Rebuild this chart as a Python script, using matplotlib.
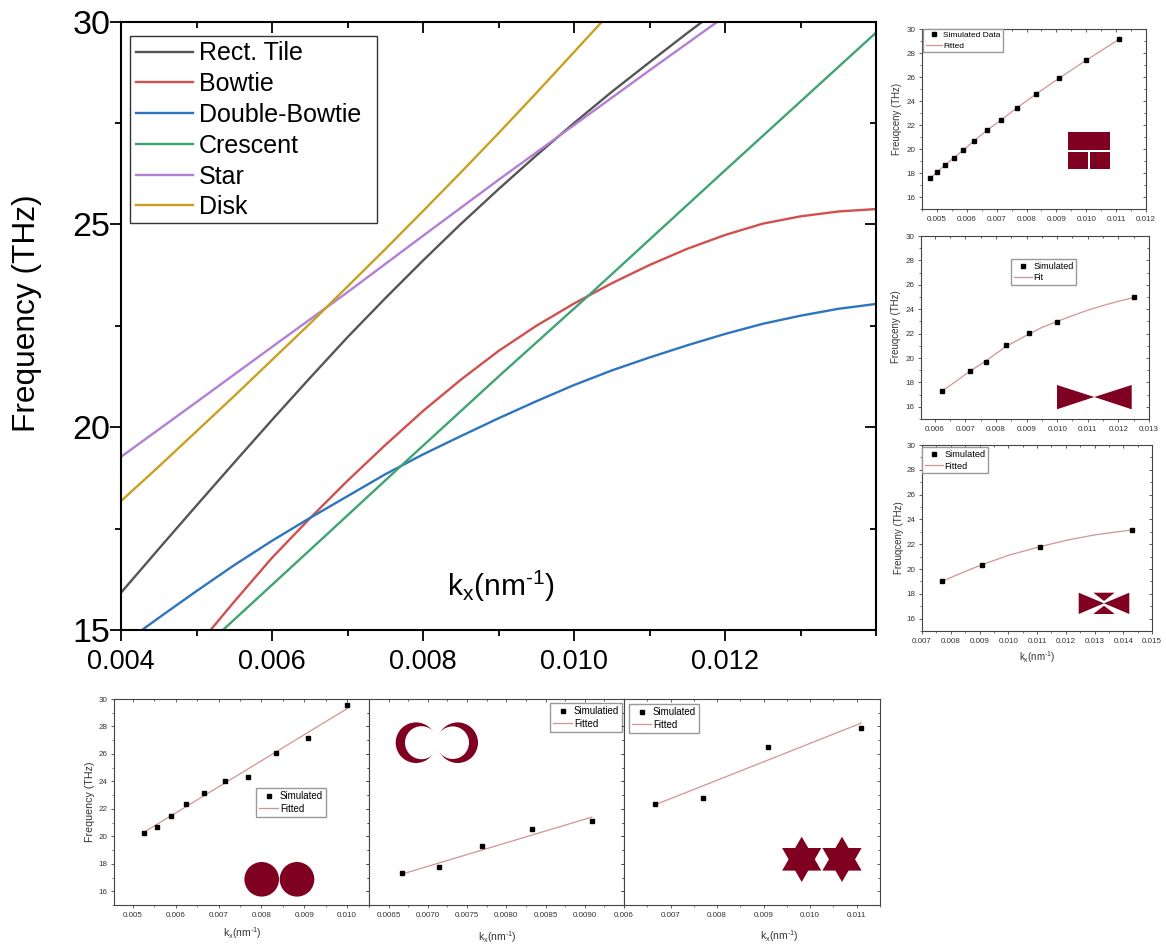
import matplotlib
matplotlib.use('Agg')
import matplotlib.pyplot as plt
from matplotlib.patches import Polygon, Rectangle, Circle
from matplotlib.ticker import MultipleLocator, FormatStrFormatter

W, H = 1166, 946

plt.rcParams['font.family'] = ['Liberation Sans', 'DejaVu Sans']
plt.rcParams['mathtext.default'] = 'regular'

# main chart, curves
rect_k = [0.004, 0.0045, 0.005, 0.0055, 0.006, 0.0065, 0.007, 0.0075, 0.008, 0.0085, 0.009, 0.0095, 0.01, 0.0105, 0.011, 0.0115, 0.0117]
rect_f = [15.92, 17.0, 18.07, 19.13, 20.18, 21.21, 22.22, 23.18, 24.11, 25.01, 25.87, 26.7, 27.5, 28.27, 29.0, 29.72, 30]
bowtie_k = [0.0052, 0.0055, 0.006, 0.0065, 0.007, 0.0075, 0.008, 0.0085, 0.009, 0.0095, 0.01, 0.0105, 0.011, 0.0115, 0.012, 0.0125, 0.013, 0.0135, 0.014]
bowtie_f = [15.03, 15.7, 16.78, 17.75, 18.68, 19.56, 20.4, 21.17, 21.88, 22.5, 23.05, 23.55, 24.0, 24.4, 24.74, 25.02, 25.2, 25.32, 25.38]
dbl_k = [0.0043, 0.0045, 0.005, 0.0055, 0.006, 0.0065, 0.007, 0.0075, 0.008, 0.0085, 0.009, 0.0095, 0.01, 0.0105, 0.011, 0.0115, 0.012, 0.0125, 0.013, 0.0135, 0.014]
dbl_f = [15.03, 15.3, 15.96, 16.6, 17.2, 17.76, 18.3, 18.84, 19.33, 19.78, 20.22, 20.64, 21.04, 21.4, 21.72, 22.02, 22.3, 22.55, 22.75, 22.92, 23.04]
crescent_k = [0.00535, 0.00667, 0.00774, 0.00903, 0.0102, 0.01198, 0.014]
crescent_f = [15, 17.26, 19.1, 21.3, 23.26, 26.3, 29.73]
star_k = [0.004, 0.005, 0.006, 0.007, 0.008, 0.009, 0.01, 0.011, 0.0119]
star_f = [19.27, 20.62, 21.98, 23.33, 24.72, 26.1, 27.45, 28.8, 30]
disk_k = [0.004, 0.0045, 0.005, 0.0055, 0.006, 0.0065, 0.007, 0.0075, 0.008, 0.0085, 0.009, 0.0095, 0.01, 0.01037]
disk_f = [18.18, 19.03, 19.9, 20.77, 21.66, 22.55, 23.47, 24.39, 25.33, 26.28, 27.25, 28.24, 29.25, 30]

# small panels
p1_k = [0.00476, 0.005, 0.00526, 0.00556, 0.00588, 0.00625, 0.00667, 0.00714, 0.00769, 0.00833, 0.00909, 0.01, 0.0111]
p1_f = [17.55, 18.05, 18.65, 19.25, 19.9, 20.7, 21.55, 22.4, 23.45, 24.6, 25.9, 27.4, 29.15]
p2_k = [0.00625, 0.00714, 0.00769, 0.00833, 0.00909, 0.01, 0.0125]
p2_f = [17.3, 18.95, 19.7, 21.05, 22.05, 22.95, 25.0]
p2_fit_k = [0.00625, 0.00714, 0.00769, 0.00833, 0.00909, 0.0095, 0.01, 0.0105, 0.011, 0.0115, 0.012, 0.0125]
p2_fit_f = [17.3, 18.9, 19.8, 20.95, 21.98, 22.5, 23.0, 23.47, 23.92, 24.3, 24.65, 24.95]
p3_k = [0.00769, 0.00909, 0.0111, 0.01429]
p3_f = [19.05, 20.3, 21.8, 23.15]
p3_fit_k = [0.00769, 0.0085, 0.00909, 0.01, 0.0111, 0.012, 0.013, 0.01429]
p3_fit_f = [19.0, 19.8, 20.35, 21.1, 21.8, 22.3, 22.75, 23.15]
p4_k = [0.00526, 0.00556, 0.00588, 0.00625, 0.00667, 0.00714, 0.00769, 0.00833, 0.00909, 0.01]
p4_f = [20.25, 20.65, 21.5, 22.35, 23.15, 24.05, 24.35, 26.1, 27.15, 29.55]
p4_fit_k = [0.00526, 0.01]
p4_fit_f = [20.3, 29.3]
p5_k = [0.00667, 0.00714, 0.00769, 0.00833, 0.00909]
p5_f = [17.3, 17.75, 19.3, 20.55, 21.1]
p5_fit_k = [0.00667, 0.00909]
p5_fit_f = [17.25, 21.4]
p6_k = [0.00667, 0.00769, 0.00909, 0.0111]
p6_f = [22.35, 22.8, 26.5, 27.9]
p6_fit_k = [0.00667, 0.0111]
p6_fit_f = [22.3, 28.25]

main_xticks = [0.004, 0.006, 0.008, 0.010, 0.012]
p5_xticks = [0.0065, 0.007, 0.0075, 0.008, 0.0085, 0.009]

dark_red = '#7f0020'
fit_color = '#d49393'
frame = '#444444'


def pos(l, t, r, b):
    return [l / W, 1 - b / H, (r - l) / W, (b - t) / H]


def inner_ticks(a, major_len, minor_len, width, color):
    # top and right ticks point into the plot, bottom and left ones out of it
    x0, x1 = a.get_xlim()
    y0, y1 = a.get_ylim()
    top = a.secondary_xaxis('top')
    right = a.secondary_yaxis('right')
    top.set_xticks([t for t in a.get_xticks() if x0 <= t <= x1])
    top.set_xticks([t for t in a.get_xticks(minor=True) if x0 <= t <= x1], minor=True)
    right.set_yticks([t for t in a.get_yticks() if y0 <= t <= y1])
    right.set_yticks([t for t in a.get_yticks(minor=True) if y0 <= t <= y1], minor=True)
    for sec, axis in ((top, 'x'), (right, 'y')):
        sec.tick_params(axis=axis, which='major', direction='in', length=major_len, width=width, color=color,
                        labeltop=False, labelright=False)
        sec.tick_params(axis=axis, which='minor', direction='in', length=minor_len, width=width, color=color)
        for s in sec.spines.values():
            s.set_visible(False)


def panel(box, xlim, major, minor, fmt='%.3f', left_labels=True, xticks=None):
    a = fig.add_axes(pos(*box))
    a.set_xlim(*xlim)
    a.set_ylim(15, 30)
    a.xaxis.set_major_locator(MultipleLocator(major))
    a.xaxis.set_minor_locator(MultipleLocator(minor))
    a.xaxis.set_major_formatter(FormatStrFormatter(fmt))
    a.yaxis.set_minor_locator(MultipleLocator(1))
    a.set_yticks(range(16, 31, 2))
    if xticks is not None:
        a.set_xticks(xticks)
    for s in a.spines.values():
        s.set_color(frame)
        s.set_linewidth(0.8)
    a.tick_params(which='major', length=2.2, width=0.6, color=frame, labelsize=5.8, labelcolor='#333333', pad=2.5)
    a.tick_params(which='minor', length=1.2, width=0.5, color=frame)
    a.tick_params(axis='y', labelleft=left_labels)
    inner_ticks(a, 2.2, 1.2, 0.6, frame)
    return a


def draw(a, k, f, fit_k, fit_f, names, corner, fs):
    a.plot(k, f, 's', color='black', ms=3.3, label=names[0], zorder=3)
    a.plot(fit_k, fit_f, '-', color=fit_color, lw=0.9, label=names[1], zorder=2)
    a.legend(loc='upper left', bbox_to_anchor=(corner[0] / W, 1 - corner[1] / H), bbox_transform=fig.transFigure,
             borderaxespad=0, fontsize=fs, frameon=True, fancybox=False, framealpha=1, edgecolor='#999999',
             handlelength=2.0, handletextpad=0.15, labelspacing=0.3, borderpad=0.3, numpoints=1)


fig = plt.figure(figsize=(W / 100, H / 100), dpi=100)

# big plot
ax = fig.add_axes(pos(121, 21.7, 876, 630))
ax.plot(rect_k, rect_f, color='#555555', lw=1.7, label='Rect. Tile')
ax.plot(bowtie_k, bowtie_f, color='#d0504f', lw=1.7, label='Bowtie')
ax.plot(dbl_k, dbl_f, color='#2e75c0', lw=1.7, label='Double-Bowtie')
ax.plot(crescent_k, crescent_f, color='#3fa373', lw=1.7, label='Crescent')
ax.plot(star_k, star_f, color='#b27fd6', lw=1.7, label='Star')
ax.plot(disk_k, disk_f, color='#c9a021', lw=1.7, label='Disk')
ax.set_xlim(0.004, 0.014)
ax.set_ylim(15, 30)
ax.set_xticks(main_xticks)
ax.xaxis.set_minor_locator(MultipleLocator(0.001))
ax.xaxis.set_major_formatter(FormatStrFormatter('%.3f'))
ax.yaxis.set_major_locator(MultipleLocator(5))
ax.yaxis.set_minor_locator(MultipleLocator(2.5))
ax.tick_params(which='major', length=8, width=1.3, labelsize=19.5, pad=6)
ax.tick_params(which='minor', length=4, width=1.3)
ax.tick_params(axis='y', which='major', labelsize=24.5, pad=-0.5)
for s in ax.spines.values():
    s.set_linewidth(1.5)
inner_ticks(ax, 8, 4, 1.3, 'black')
ax.legend(loc='upper left', bbox_to_anchor=(130 / W, 1 - 36 / H), bbox_transform=fig.transFigure, borderaxespad=0,
          fontsize=18, frameon=False, handlelength=2.28, handletextpad=0.27, labelspacing=0.27, borderpad=0.22)

# right column
a1 = panel((922, 29, 1146, 209), (0.0045, 0.012), 0.001, 0.0005)
draw(a1, p1_k, p1_f, p1_k, p1_f, ['Simulated Data', 'Fitted'], (923, 29), 6)
a2 = panel((921, 236, 1149, 419), (0.00555, 0.013), 0.001, 0.0005)
draw(a2, p2_k, p2_f, p2_fit_k, p2_fit_f, ['Simulated', 'Fit'], (1011, 259), 6.5)
a3 = panel((922, 445, 1152, 631), (0.007, 0.015), 0.001, 0.0005)
draw(a3, p3_k, p3_f, p3_fit_k, p3_fit_f, ['Simulated', 'Fitted'], (922, 447), 6.6)

# bottom row
a4 = panel((114, 699, 369, 905), (0.00456, 0.01051), 0.001, 0.0005)
draw(a4, p4_k, p4_f, p4_fit_k, p4_fit_f, ['Simulated', 'Fitted'], (256, 788), 7)
a5 = panel((369, 699, 624, 905), (0.00625, 0.0095), 0.0005, 0.00025, fmt='%.4f', left_labels=False, xticks=p5_xticks)
draw(a5, p5_k, p5_f, p5_fit_k, p5_fit_f, ['Simulatied', 'Fitted'], (550, 703), 7)
a6 = panel((624, 699, 880, 905), (0.006, 0.0115), 0.001, 0.0005, left_labels=False)
draw(a6, p6_k, p6_f, p6_fit_k, p6_fit_f, ['Simulated', 'Fitted'], (629, 704), 7)

# overlay in pixels for labels and the little shapes
ov = fig.add_axes([0, 0, 1, 1])
ov.set_xlim(0, W)
ov.set_ylim(H, 0)
ov.axis('off')
ov.patch.set_alpha(0)

# frame of the big legend
ov.add_patch(Rectangle((130, 36), 247, 187, fill=False, ec='#333333', lw=1))

kx = 'k$_{x}$(nm$^{\u20101}$)'
ov.text(27, 313, 'Frequency (THz)', rotation=90, ha='center', va='center', fontsize=22.8)
ov.text(501, 586, kx, ha='center', va='center', fontsize=21.5)
ov.text(897, 119, 'Freuqceny (THz)', rotation=90, ha='center', va='center', fontsize=6.9, color='#333333')
ov.text(896, 327, 'Freuqceny (THz)', rotation=90, ha='center', va='center', fontsize=7, color='#333333')
ov.text(899, 538, 'Freuqceny (THz)', rotation=90, ha='center', va='center', fontsize=7, color='#333333')
ov.text(90, 802, 'Frequency (THz)', rotation=90, ha='center', va='center', fontsize=7.7, color='#333333')
ov.text(1037, 657, kx, ha='center', va='center', fontsize=7, color='#333333')
ov.text(242, 933, kx, ha='center', va='center', fontsize=7.5, color='#333333')
ov.text(497, 937, kx, ha='center', va='center', fontsize=7.5, color='#333333')
ov.text(779, 936, kx, ha='center', va='center', fontsize=7.5, color='#333333')

# rectangular tile
ov.add_patch(Rectangle((1067.7, 132.3), 42.6, 18, color=dark_red, lw=0))
ov.add_patch(Rectangle((1067.7, 151.7), 20.6, 17.6, color=dark_red, lw=0))
ov.add_patch(Rectangle((1089.7, 151.7), 20.6, 17.6, color=dark_red, lw=0))
# bowtie
ov.add_patch(Polygon([(1057, 385), (1057, 409.3), (1094.3, 397)], color=dark_red, lw=0))
ov.add_patch(Polygon([(1131.7, 385), (1131.7, 409.3), (1094.3, 397)], color=dark_red, lw=0))
# double bowtie
ov.add_patch(Polygon([(1078.7, 592.7), (1078.7, 614), (1104, 603.3)], color=dark_red, lw=0))
ov.add_patch(Polygon([(1129.3, 592.7), (1129.3, 614), (1104, 603.3)], color=dark_red, lw=0))
ov.add_patch(Polygon([(1093.3, 592.7), (1114.7, 592.7), (1104, 601)], color=dark_red, lw=0))
ov.add_patch(Polygon([(1093.3, 614), (1114.7, 614), (1104, 605.7)], color=dark_red, lw=0))
# disks
ov.add_patch(Circle((261.7, 879.3), 17.3, color=dark_red, lw=0))
ov.add_patch(Circle((297, 879.3), 17.3, color=dark_red, lw=0))
# crescents
ov.add_patch(Circle((416, 742.7), 20.3, color=dark_red, lw=0))
ov.add_patch(Circle((421.5, 742.7), 16.5, color='white', lw=0))
ov.add_patch(Circle((457.7, 742.7), 20.3, color=dark_red, lw=0))
ov.add_patch(Circle((452.7, 742.7), 16.3, color='white', lw=0))
# stars
for cx in (801.7, 842):
    up = [(cx, 836.7), (cx + 19.6, 870.6), (cx - 19.6, 870.6)]
    down = [(cx, 882), (cx + 19.6, 848), (cx - 19.6, 848)]
    ov.add_patch(Polygon(up, color=dark_red, lw=0))
    ov.add_patch(Polygon(down, color=dark_red, lw=0))

fig.savefig('out.png', dpi=100)
